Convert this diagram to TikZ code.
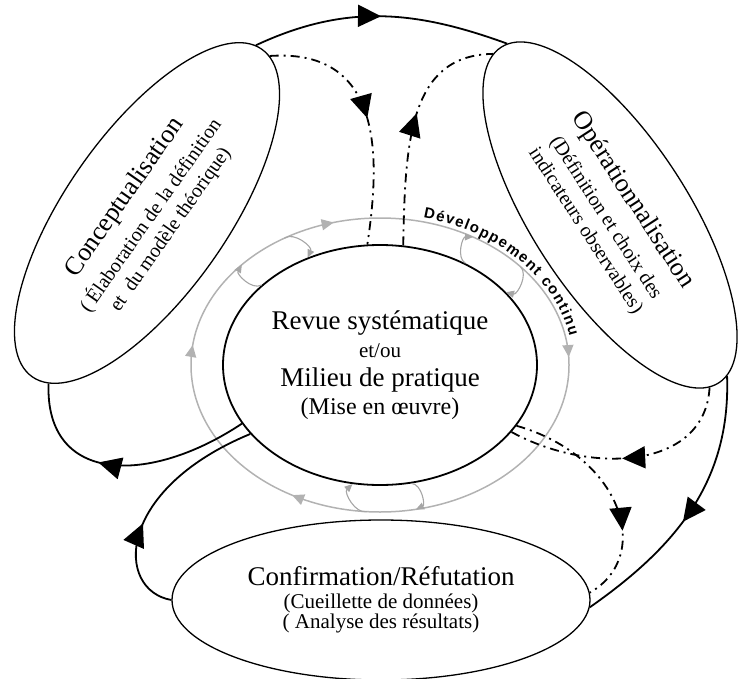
\documentclass[tikz,border=0pt]{standalone}
\usepackage{fontspec}
\setmainfont{Liberation Serif}
\setsansfont{Liberation Sans}
\usetikzlibrary{arrows.meta, positioning, shapes.geometric, decorations.markings, decorations.text}

\begin{document}
\begin{tikzpicture}[
    x=1pt, y=1pt,
    phase/.style={draw, ellipse, line width=1.3pt, inner sep=0pt, minimum width=400pt, minimum height=162pt, align=center, font=\fontsize{20}{24}\selectfont},
    core/.style={draw, ellipse, line width=1.8pt, inner sep=0pt, minimum width=314pt, minimum height=240pt, align=center, font=\fontsize{27}{28.5}\selectfont},
    ring/.style={ellipse, inner sep=0pt, outer sep=0pt, minimum width=378pt, minimum height=294pt},
    ringline/.style={black!30, line width=1.5pt},
    twist/.style={black!35, line width=1.1pt, -{Triangle[length=8pt, width=7pt]}},
    flow/.style={line width=1.8pt, postaction={decorate}, decoration={markings, mark=at position #1 with {\arrow{Triangle[length=23pt, width=22pt]}}}},
    feedback/.style={line width=1.8pt, dash pattern=on 9pt off 5pt on 2pt off 5pt, postaction={decorate}, decoration={markings, mark=at position #1 with {\arrow{Triangle[length=23pt, width=22pt]}}}}
]
\useasboundingbox (0,0) rectangle (738,-679);

% phases of the cycle
\node[core] (core) at (380,-365) {Revue systématique\\ {\fontsize{21}{22}\selectfont et/ou}\\ Milieu de pratique\\ {\fontsize{24}{25}\selectfont (Mise en œuvre)}};
\node[ring] (ring) at (core.center) {};
\node[phase, rotate=55] (concept) at (147,-213) {{\fontsize{26}{28}\selectfont Conceptualisation}\\[7pt] ( Élaboration de la définition\\ et\ \ du modèle théorique)};
\node[phase, rotate=-57, minimum height=156pt] (oper) at (610,-215) {{\fontsize{26}{28}\selectfont Opérationnalisation}\\[7pt] (Définition et choix des\\ indicateurs observables)};
\node[phase, minimum width=418pt, minimum height=160pt, font=\fontsize{21}{20}\selectfont] (confirm) at (381,-600) {{\fontsize{27}{29}\selectfont Confirmation/Réfutation}\\[3pt] (Cueillette de données)\\ ( Analyse des résultats)};

% continuous development ring
\draw[ringline, postaction={decorate}, decoration={markings,
    mark=at position 0.2425 with {\arrow{Triangle[length=12pt, width=11pt]}},
    mark=at position 0.585 with {\arrow{Triangle[length=12pt, width=11pt]}},
    mark=at position 0.769 with {\arrow{Triangle[length=12pt, width=11pt]}},
    mark=at position 0.956 with {\arrow{Triangle[length=12pt, width=11pt]}}}]
  (ring.north) arc[start angle=90, end angle=-270, x radius=189pt, y radius=147pt];
\path[decorate, decoration={text along path, text align={fit to path},
    text={|\sffamily\bfseries\fontsize{15}{15}\selectfont|Développement continu}}]
  (ring.center) ++(77:193pt and 151pt) arc[start angle=77, end angle=11, x radius=193pt, y radius=151pt];

\draw[twist] (ring.127) to[bend left=75] (core.124);
\draw[twist] (core.146) to[bend left=75] (ring.144);
\draw[twist] (core.50) to[bend left=75] (ring.54);
\draw[twist] (ring.35) to[bend left=75] (core.30);
\draw[twist] (ring.265) to[bend left=75] (core.257);
\draw[twist] (core.285) to[bend left=75] (ring.284);

% main cycle
\draw[flow=0.5] (concept.2) to[out=25, in=160] (oper.178);
\draw[flow=0.55] (oper.3) to[out=-88, in=35] (confirm.-2);
\draw[flow=0.4] (confirm.west) .. controls (115,-590) and (115,-490) .. (core.208);
\draw[flow=0.6] (core.203) .. controls (150,-485) and (45,-485) .. (concept.185);

% feedback links
\draw[feedback=0.5] (concept.-3) .. controls (385,-48) and (380,-160) .. (core.96);
\draw[feedback=0.56] (core.79) .. controls (405,-140) and (410,-55) .. (oper.183);
\draw[feedback=0.52] (oper.-3) .. controls (705,-470) and (590,-475) .. (core.-27);
\draw[feedback=0.68] (core.-24) .. controls (620,-455) and (655,-555) .. (confirm.2);
\end{tikzpicture}
\end{document}
